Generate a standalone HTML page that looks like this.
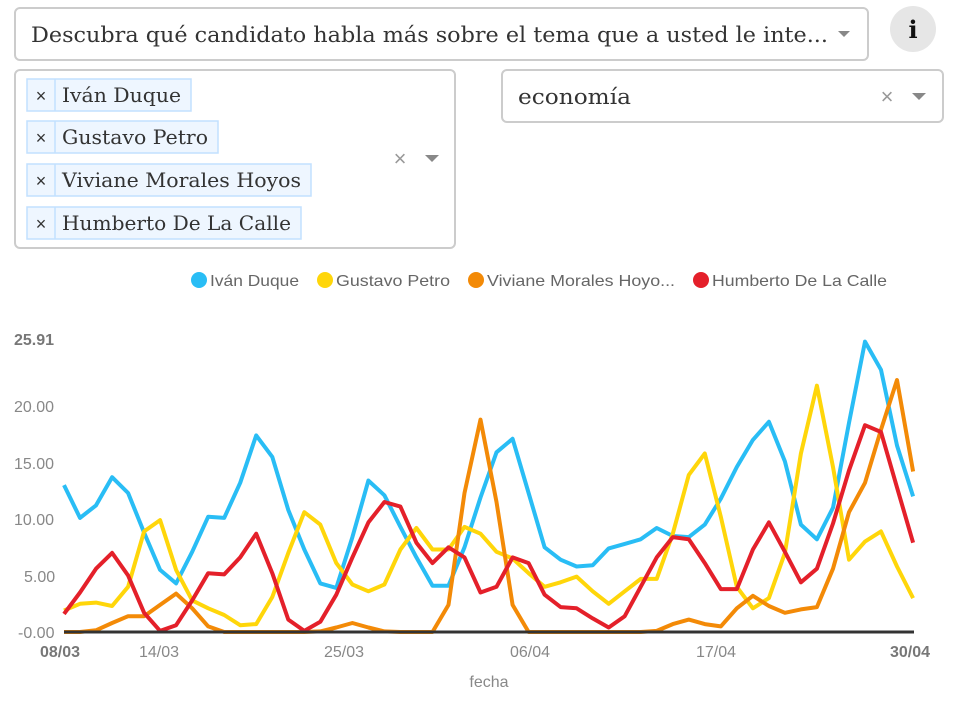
<!DOCTYPE html>
<html><head><meta charset="utf-8"><style>
html,body{margin:0;padding:0;background:#fff;}
svg{display:block;}
.serif{font-family:"DejaVu Serif","Liberation Serif",serif;fill:#333;}
.sans{font-family:"Liberation Sans",sans-serif;}
</style></head><body>
<svg id="s" width="962" height="705" xmlns="http://www.w3.org/2000/svg">
<rect x="15" y="8" width="853" height="52" rx="5" fill="#fff" stroke="#ccc" stroke-width="2"/>
<text class="serif" x="31" y="42" font-size="21" textLength="797" lengthAdjust="spacingAndGlyphs">Descubra qué candidato habla más sobre el tema que a usted le inte...</text>
<path d="M838 31 l12 0 l-6 6z" fill="#888"/>
<circle cx="913" cy="29" r="23" fill="#e6e6e6"/>
<text x="913" y="38" text-anchor="middle" font-family="DejaVu Serif,serif" font-weight="bold" font-size="24" fill="#111">i</text>

<rect x="15" y="70" width="440" height="178" rx="5" fill="#fff" stroke="#ccc" stroke-width="2"/>
<g id="tags"></g>
<text class="sans" x="400" y="166" text-anchor="middle" font-size="22" fill="#999">×</text>
<path d="M425 155 l14 0 l-7 7z" fill="#888"/>

<rect x="502" y="70" width="441" height="52" rx="5" fill="#fff" stroke="#ccc" stroke-width="2"/>
<text class="serif" x="518" y="104" font-size="21" textLength="113" lengthAdjust="spacingAndGlyphs">economía</text>
<text class="sans" x="887" y="104" text-anchor="middle" font-size="22" fill="#999">×</text>
<path d="M912 93 l14 0 l-7 7z" fill="#888"/>

<g class="sans" font-size="16" fill="#666">
<circle cx="199" cy="280" r="8" fill="#29bdf5"/><text x="210" y="286" textLength="89" lengthAdjust="spacingAndGlyphs">Iván Duque</text>
<circle cx="325" cy="280" r="8" fill="#ffd60a"/><text x="336" y="286" textLength="114" lengthAdjust="spacingAndGlyphs">Gustavo Petro</text>
<circle cx="476" cy="280" r="8" fill="#f38a07"/><text x="487" y="286" textLength="188" lengthAdjust="spacingAndGlyphs">Viviane Morales Hoyo...</text>
<circle cx="701" cy="280" r="8" fill="#e4202a"/><text x="712" y="286" textLength="175" lengthAdjust="spacingAndGlyphs">Humberto De La Calle</text>
</g>

<g class="sans" font-size="16" fill="#888">
<text x="14" y="345" font-weight="bold" fill="#777">25.91</text>
<text x="14" y="412">20.00</text>
<text x="14" y="469">15.00</text>
<text x="14" y="525">10.00</text>
<text x="24" y="582">5.00</text>
<text x="18" y="638">-0.00</text>
<text x="40" y="657" font-weight="bold" fill="#777">08/03</text>
<text x="139" y="657">14/03</text>
<text x="324" y="657">25/03</text>
<text x="510" y="657">06/04</text>
<text x="696" y="657">17/04</text>
<text x="890" y="657" font-weight="bold" fill="#777">30/04</text>
<text x="489" y="687" text-anchor="middle">fecha</text>
</g>
<g id="lines" fill="none" stroke-width="4" stroke-linejoin="round"></g>
<line x1="64" y1="632" x2="914" y2="632" stroke="#333" stroke-width="3"/>
</svg>
<script>
var ns="http://www.w3.org/2000/svg";
var tags=[["Iván Duque",79,191],["Gustavo Petro",121,218],["Viviane Morales Hoyos",164,311],["Humberto De La Calle",207,301]];
var tg=document.getElementById("tags"),h="";
tags.forEach(function(t){var y=t[1];
h+='<rect x="27" y="'+y+'" width="'+(t[2]-27)+'" height="32" fill="#eef6ff" stroke="#c2e0ff" stroke-width="1.5"/>';
h+='<line x1="55" y1="'+y+'" x2="55" y2="'+(y+32)+'" stroke="#c2e0ff" stroke-width="1.5"/>';
h+='<text x="41" y="'+(y+23)+'" text-anchor="middle" font-family="Liberation Sans,sans-serif" font-size="18" fill="#333">×</text>';
h+='<text class="serif" x="62" y="'+(y+23)+'" font-size="20" textLength="'+(t[2]-72)+'" lengthAdjust="spacingAndGlyphs">'+t[0]+'</text>';});
tg.innerHTML=h;
var D={
"#29bdf5":[13.0,10.1,11.2,13.7,12.3,8.8,5.5,4.3,7.1,10.2,10.1,13.2,17.4,15.5,10.8,7.3,4.3,3.9,8.4,13.4,12.1,9.3,6.6,4.1,4.1,7.5,11.9,15.9,17.1,12.3,7.5,6.4,5.8,5.9,7.4,7.8,8.2,9.2,8.5,8.4,9.5,11.8,14.6,17.0,18.6,15.1,9.5,8.2,11.0,18.5,25.7,23.2,16.5,12.0],
"#ffd60a":[1.9,2.5,2.6,2.3,4.0,8.9,9.9,5.5,2.8,2.1,1.5,0.6,0.7,3.1,7.0,10.6,9.5,6.1,4.2,3.6,4.2,7.3,9.2,7.3,7.3,9.3,8.7,7.1,6.5,5.2,4.0,4.4,4.9,3.6,2.5,3.6,4.7,4.7,8.7,13.9,15.8,10.2,4.0,2.1,3.0,7.0,15.8,21.8,14.6,6.4,8.0,8.9,5.8,3.0],
"#f38a07":[0,0,0.15,0.8,1.4,1.4,2.4,3.4,2.1,0.5,0,0,0,0,0,0,0.05,0.4,0.8,0.4,0.05,0,0,0,2.4,12.3,18.8,11.5,2.4,0,0,0,0,0,0,0,0,0.1,0.7,1.1,0.7,0.5,2.1,3.2,2.3,1.7,2.0,2.2,5.6,10.6,13.2,17.9,22.3,14.2],
"#e4202a":[1.6,3.5,5.6,7.0,5.0,1.7,0.1,0.6,2.8,5.2,5.1,6.6,8.7,5.2,1.1,0.1,0.9,3.3,6.6,9.7,11.5,11.1,7.9,6.1,7.5,6.6,3.5,4.0,6.6,6.1,3.3,2.2,2.1,1.2,0.4,1.4,4.0,6.6,8.4,8.2,6.1,3.8,3.8,7.3,9.7,7.1,4.4,5.6,9.6,14.3,18.3,17.7,12.8,7.9]};
var g="";
for(var c in D){var p=D[c].map(function(v,i){return (64+i*16.02).toFixed(1)+","+(632-v*11.3).toFixed(1);}).join(" ");
g+='<polyline points="'+p+'" stroke="'+c+'"/>';}
document.getElementById("lines").innerHTML=g;
</script>
</body></html>
